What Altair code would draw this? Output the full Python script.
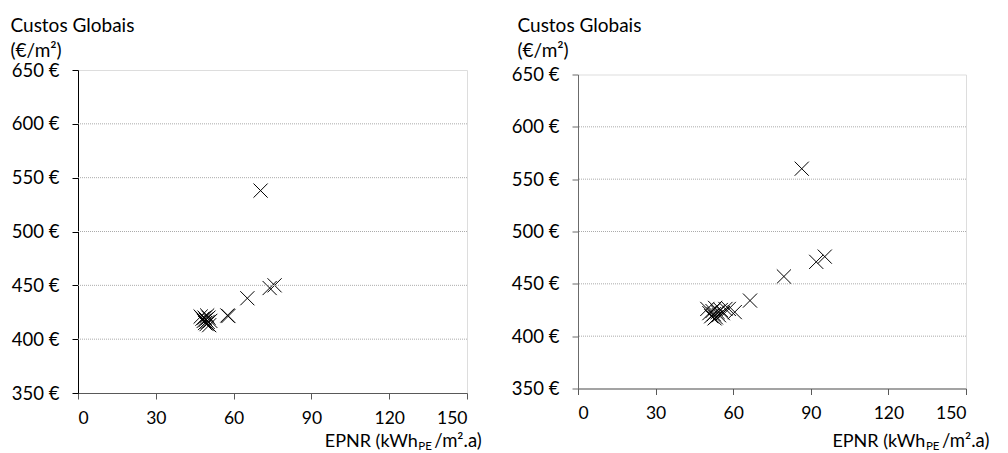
import altair as alt
import pandas as pd

# Global cost (EUR/m2) against primary energy need EPNR (kWh_PE/m2.a)
left_epnr = [70.4, 73.9, 75.8, 65.3, 57.6, 58.0,
             47.3, 48.0, 48.5, 49.0, 49.3, 49.6, 50.0, 50.3, 50.6, 51.0, 49.8, 48.8]
left_cost = [538, 447.5, 450, 438, 422, 421.5,
             421, 419, 417, 415, 418, 414, 416, 420, 413, 417, 422, 420]

right_epnr = [86.5, 92.1, 95.4, 79.6, 66.5, 60.6, 58.3,
              50.0, 50.8, 51.5, 52.0, 52.5, 53.0, 53.3, 54.0, 54.5, 55.2, 56.0, 57.0, 52.8]
right_cost = [560, 471, 476, 457, 434, 423, 426,
              426, 422, 419, 424, 421, 427, 418, 423, 420, 425, 422, 426, 417]

x_ticks = [0, 30, 60, 90, 120, 150]
y_ticks = [350, 400, 450, 500, 550, 600, 650]
grid_values = [400, 450, 500, 550, 600]

y_title = ["Custos Globais", "(€/m²)"]
x_title_main = "EPNR (kWh"
x_title_sub = "PE"
x_title_tail = "/m².a)"

FONT = "Lato"
X_SHAPE = "M-1,-1L1,1M-1,1L1,-1"


def panel(epnr, cost, w, h, ytitle_x, ytitle_y, sub_x, title_y, yaxis_color):
    df = pd.DataFrame({"epnr": epnr, "cost": cost})
    xscale = alt.Scale(domain=[0, 150], nice=False, zero=False)
    yscale = alt.Scale(domain=[350, 650], nice=False, zero=False)

    pts = alt.Chart(df).mark_point(
        shape=X_SHAPE, size=200, filled=False, stroke="black",
        strokeWidth=1, opacity=1
    ).encode(
        x=alt.X("epnr:Q", scale=xscale, axis=alt.Axis(
            values=x_ticks, title=None, grid=False, domainColor="#595959",
            tickColor="#595959", tickSize=6, labelPadding=10,
            labelFont=FONT, labelFontSize=17.5, labelColor="black",
        )),
        y=alt.Y("cost:Q", scale=yscale, axis=alt.Axis(
            values=y_ticks, grid=False, labelExpr="datum.value + ' €'",
            domainColor=yaxis_color, tickColor=yaxis_color, tickSize=6,
            labelPadding=13, labelFont=FONT, labelFontSize=18.5, labelColor="black",
            title=y_title, titleAngle=0, titleAlign="left",
            titleBaseline="alphabetic", titleX=ytitle_x, titleY=ytitle_y,
            titleFont=FONT, titleFontSize=19, titleFontWeight="normal",
            titleColor="black", titleLineHeight=25,
        )),
    )

    # dotted horizontal guide lines at the inner ticks
    grid = alt.Chart(pd.DataFrame({"cost": grid_values})).mark_rule(
        color="#ababab", strokeWidth=1, strokeDash=[1, 1]
    ).encode(y=alt.Y("cost:Q", scale=yscale))

    t_main = alt.Chart(pd.DataFrame({"t": [x_title_main]})).mark_text(
        align="right", baseline="alphabetic", font=FONT, fontSize=18, color="black"
    ).encode(text="t:N", x=alt.value(sub_x), y=alt.value(title_y))
    t_sub = alt.Chart(pd.DataFrame({"t": [x_title_sub]})).mark_text(
        align="left", baseline="alphabetic", font=FONT, fontSize=11.5, color="black"
    ).encode(text="t:N", x=alt.value(sub_x + 0.5), y=alt.value(title_y + 2.5))
    t_tail = alt.Chart(pd.DataFrame({"t": [x_title_tail]})).mark_text(
        align="left", baseline="alphabetic", font=FONT, fontSize=18.5, color="black"
    ).encode(text="t:N", x=alt.value(sub_x + 16.5), y=alt.value(title_y))

    return alt.layer(pts, grid, t_main, t_sub, t_tail).properties(width=w, height=h)


left = panel(left_epnr, left_cost, 389, 323, -68, -39, 339.8, 377.0, "#000000")
right = panel(right_epnr, right_cost, 388, 314, -61, -43, 347.4, 372.5, "#6b6b6b")

chart = alt.hconcat(left, right, spacing=111, bounds="flush", center=True).properties(
    padding={"left": 9, "top": 15, "right": 5, "bottom": 5}
).configure_view(strokeWidth=0).configure(font=FONT)

chart.save("out.html", embed_options={"renderer": "svg", "actions": False})
